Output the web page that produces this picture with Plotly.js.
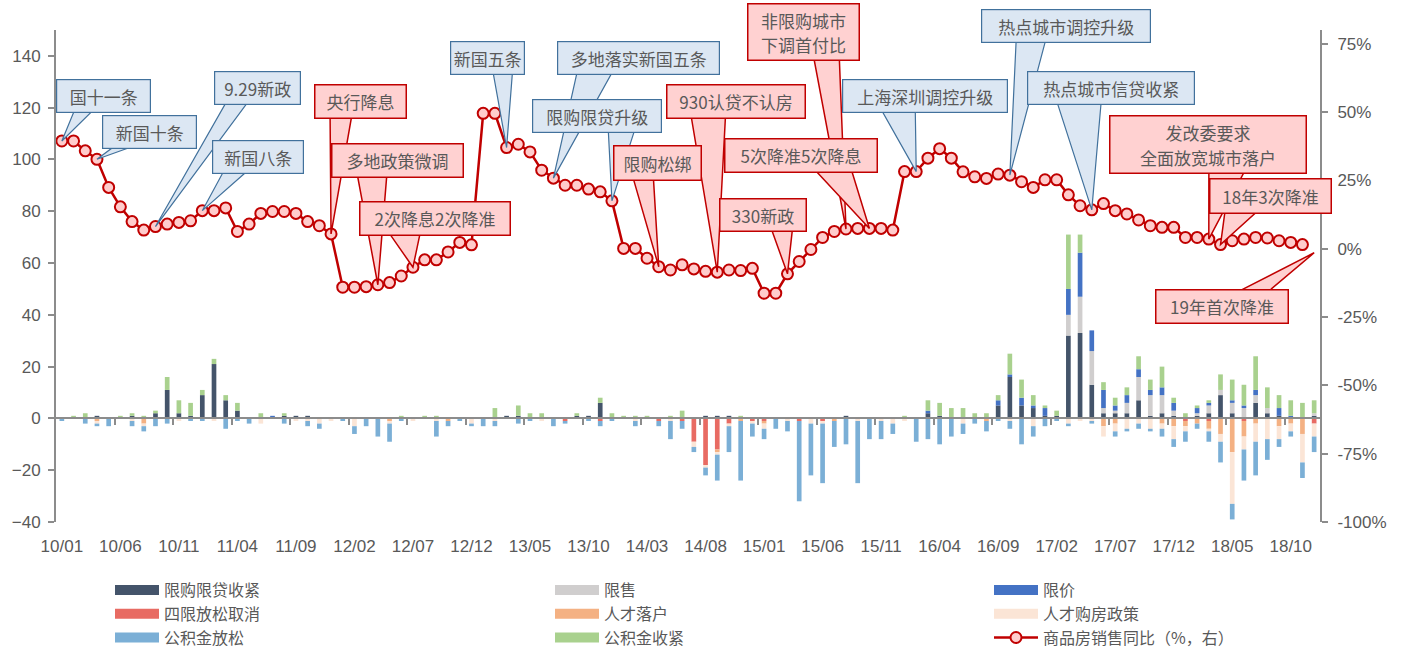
<!DOCTYPE html>
<html><head><meta charset="utf-8">
<script src="https://cdn.plot.ly/plotly-3.0.1.min.js"></script>
<style>html,body{margin:0;padding:0;background:#fff}#chart{width:1404px;height:648px}</style>
</head><body><div id="chart"></div>
<script>
// ---------- categories ----------
const startYear = 2010;
const nMonths = 108; // 2010/01 .. 2018/12
const monthIdx = Array.from({length: nMonths}, (_, i) => i);
const monthLabels = monthIdx.map(i => String(startYear + Math.floor(i / 12)).slice(2) + '/' + String(i % 12 + 1).padStart(2, '0'));
const tickIdx = [0,5,10,15,20,25,30,35,40,45,50,55,60,65,70,75,80,85,90,95,100,105];
const tickLabels = ['10/01','10/06','10/11','11/04','11/09','12/02','12/07','12/12','13/05','13/10','14/03','14/08','15/01','15/06','15/11','16/04','16/09','17/02','17/07','17/12','18/05','18/10'];
const leftTicks = [-40,-20,0,20,40,60,80,100,120,140];
const rightTicks = [-100,-75,-50,-25,0,25,50,75];
const rightTickText = ['-100%','-75%','-50%','-25%','0%','25%','50%','75%'];

// ---------- policy counts (left axis) ----------
const tightenPurchase = [ // 限购限贷收紧
 0,0,0,1,0,0,1,0,2,11, 2,1,9,21,7,3,0,0,0,1, 1,1,0,0,0,0,0,0,0,0, 0,0,0,0,0,0,0,0,1,1,
 0,0,0,0,1,1,6,0,0,0, 0,0,0,0,0,1,1,1,0,0, 0,0,0,0,0,0,0,1,0,0, 0,0,0,0,2,1,0,0,0,0,
 5,16,5,4,1,1,32,33,13,2, 2,2,7,1,2,1,0,1,2,9, 2,0,6,2,1,0,0,1];
const limitSale = [ // 限售
 0,0,0,0,0,0,0,0,0,0, 0,0,0,0,0,0,0,0,0,0, 0,0,0,0,0,0,0,0,0,0, 0,0,0,0,0,0,0,0,0,0,
 0,0,0,0,0,0,0,0,0,0, 0,0,0,0,0,0,0,0,0,0, 0,0,0,0,0,0,0,0,0,0, 0,0,0,0,0,0,0,0,0,0,
 0,0,0,0,0,0,8,14,13,2, 1,4,9,8,7,2,0,1,3,2, 4,4,3,2,0,0,0,1];
const limitPrice = [ // 限价
 0,0,0,0,0,0,0,0,0,0, 0,0,0,0,0,0,0,0,1,0, 0,0,0,0,0,0,0,0,0,0, 0,0,0,0,0,0,0,0,0,0,
 0,0,0,0,0,0,0,0,0,0, 0,0,0,0,0,0,0,0,0,0, 0,0,0,0,0,0,0,0,0,0, 0,0,0,0,1,0,0,0,0,0,
 2,1,3,1,3,0,10,17,8,7, 2,3,3,2,3,3,0,2,1,0, 1,1,2,0,3,1,0,0];
const cancelLimits = [ // 四限放松取消
 0,0,0,0,0,0,0,0,0,0, 0,0,0,0,0,0,0,0,0,0, 0,0,0,0,0,0,0,0,0,0, 0,0,0,0,0,0,0,0,0,0,
 0,0,0,-1,0,0,-1,0,0,0, 0,-1,0,-1,-9,-18,-12,-2,0,-1, -1,0,0,-1,0,-1,0,0,0,0, 0,0,0,0,0,0,0,0,0,0,
 0,0,0,0,0,0,0,0,0,0, 0,0,0,0,0,0,-1,0,-1,0, 0,-1,0,0,0,0,0,-2];
const talentHukou = [ // 人才落户
 0,0,0,-1,0,0,0,-2,0,0, 0,0,0,0,0,0,0,0,0,0, 0,0,0,0,0,0,0,0,-1,0, 0,0,0,-1,0,0,0,0,0,0,
 0,0,0,0,0,0,0,0,0,0, 0,0,0,0,0,0,-1,0,-1,0, -1,0,0,0,0,0,-1,0,0,0, 0,0,0,0,0,0,0,0,0,-1,
 0,0,0,0,0,0,0,0,0,-3, -2,0,0,0,-2,-3,-2,-2,-3,-6, -13,-6,-2,0,-3,-2,-6,0];
const talentHousing = [ // 人才购房政策
 0,0,0,-1,0,0,-1,-1,0,0, -1,0,0,-1,0,0,0,-2,0,0, -1,-1,-2,-1,0,-3,0,0,-1,0, -1,0,-1,0,0,-2,0,-1,0,0,
 0,-1,0,0,0,0,0,0,0,-1, 0,0,-1,0,-2,-1,-1,-1,0,-1, -2,0,-1,0,-2,-1,0,0,-1,0, -1,-2,-1,0,0,0,0,-2,0,0,
 0,-1,0,-3,0,0,-2,-1,-1,-4, -3,-4,-2,-4,-2,-5,-2,0,-1,-3, -20,-5,-7,-8,-5,-3,-11,-5];
const fundEase = [ // 公积金放松
 -1,0,-2,-1,-3,0,-2,-2,-3,-2, 0,-1,-1,0,-4,-1,-2,0,0,-2, 0,-2,-2,0,-1,-3,-3,-7,-7,-1, 0,0,-6,-2,-1,-1,-3,-2,0,-2,
 -1,0,-3,-1,0,-1,-2,-1,0,-2, 0,-2,-7,-3,-2,-3,-10,-10,-23,-5, -4,-4,-4,-31,-20,-23,-10,-10,-24,-8, -7,-4,0,-9,-8,-10,-7,-4,-2,-4,
 -1,-3,-10,-4,-3,-1,-1,0,-1,0, -2,-1,-2,-1,-3,-3,-4,-2,-4,-8, -6,-12,-13,-8,-3,-2,-6,-6];
const fundTighten = [ // 公积金收紧
 0,1,2,0,0,1,1,1,1,5, 5,5,2,2,2,3,0,2,0,1, 0,0,0,0,0,0,0,0,0,1, 0,1,1,0,0,0,0,4,0,4,
 2,2,0,0,1,0,2,2,1,1, 1,0,1,3,0,0,0,0,1,0, 0,0,0,0,0,0,0,0,0,0, 0,0,1,0,4,5,4,4,2,2,
 2,8,7,4,1,2,21,7,0,3, 3,3,5,4,8,2,2,1,1,6, 8,8,13,8,5,6,6,5];

// ---------- 商品房销售同比 (%, right axis), 2010/01 .. 2018/11 ----------
const salesYoY = [
 39.4,39.4,35.8,32.7,22.4,15.3,9.9,6.8,8.1,9.0, 9.6,10.2,13.9,13.9,14.9,6.3,9.0,12.9,13.6,13.6,
 12.9,9.9,8.4,5.4,-14.1,-14.1,-13.9,-13.2,-12.4,-10.0, -6.8,-4.1,-4.1,-1.2,2.3,1.4,49.5,49.5,37.0,38.2,
 35.4,28.7,25.8,23.2,23.2,21.8,20.8,17.5,0.1,0.1, -3.5,-6.6,-7.8,-5.9,-7.4,-8.3,-8.6,-7.8,-8.0,-7.2,
 -16.3,-16.3,-9.2,-4.7,-0.3,4.1,6.3,7.2,7.4,7.4, 7.4,6.8,28.2,28.2,33.1,36.6,33.1,28.1,26.3,25.7,
 27.3,26.9,24.5,22.4,25.2,25.2,19.7,15.7,14.2,16.5, 13.9,12.7,10.5,8.4,7.8,7.8,4.1,4.1,3.5,1.5,
 2.9,3.5,4.1,3.9,2.9,2.3,1.5];
const salesIdx = monthIdx.slice(0, salesYoY.length);

// ---------- series meta ----------
const barSeries = [
 {name:'限购限贷收紧', y:tightenPurchase, color:'#44546a', legend:'legend'},
 {name:'限售', y:limitSale, color:'#d0cece', legend:'legend2'},
 {name:'限价', y:limitPrice, color:'#4472c4', legend:'legend3'},
 {name:'四限放松取消', y:cancelLimits, color:'#e86b63', legend:'legend'},
 {name:'人才落户', y:talentHukou, color:'#f4b183', legend:'legend2'},
 {name:'人才购房政策', y:talentHousing, color:'#fbe5d6', legend:'legend3'},
 {name:'公积金放松', y:fundEase, color:'#7bafd6', legend:'legend'},
 {name:'公积金收紧', y:fundTighten, color:'#a9d18e', legend:'legend2'}
];
const lineName = '商品房销售同比（%，右）';

// ---------- callouts ----------
const callouts = [
 {text:['国十一条'], i:0, bx:3.56, by:55.9, w:93, h:32, base:[-28,12,-8,12], kind:'b'},
 {text:['新国十条'], i:3, bx:7.49, by:42.7, w:93, h:32, base:[-32,12,-10,12], kind:'b'},
 {text:['9.29新政'], i:8, bx:16.72, by:58.8, w:85, h:32, base:[-30,12,-8,12], kind:'b'},
 {text:['新国八条'], i:12, bx:16.77, by:33.7, w:90, h:32, base:[-33,12,-8,12], kind:'b'},
 {text:['新国五条'], i:38, bx:36.38, by:69.8, w:73, h:32, base:[5,12,25,12], kind:'b'},
 {text:['多地落实新国五条'], i:42, bx:49.28, by:69.8, w:161, h:32, base:[-61,12,-25,12], kind:'b'},
 {text:['限购限贷升级'], i:47, bx:45.74, by:48.4, w:128, h:32, base:[11,12,38,12], kind:'b'},
 {text:['上海深圳调控升级'], i:73, bx:73.77, by:55.9, w:164, h:32, base:[-45,12,-10,12], kind:'b'},
 {text:['热点城市调控升级'], i:81, bx:85.82, by:81.5, w:168, h:32, base:[-50,12,-20,12], kind:'b'},
 {text:['热点城市信贷收紧'], i:88, bx:89.67, by:58.8, w:166, h:32, base:[-55,12,-10,12], kind:'b'},
 {text:['央行降息'], i:23, bx:25.48, by:53.7, w:90, h:32, base:[-30,12,-8,12], kind:'r'},
 {text:['多地政策微调'], i:27, bx:28.72, by:32.1, w:130, h:32, base:[-41,12,-11,12], kind:'r'},
 {text:['2次降息2次降准'], i:30, bx:31.85, by:10.9, w:149, h:32, base:[-47,12,-14,12], kind:'r'},
 {text:['限购松绑'], i:51, bx:50.87, by:31.4, w:86, h:33, base:[-25,12,-4,12], kind:'r'},
 {text:['930认贷不认房'], i:56, bx:57.57, by:54.0, w:137, h:32, base:[-45,12,-10,12], kind:'r'},
 {text:['非限购城市','下调首付比'], i:67, bx:63.34, by:79.1, w:110, h:55, base:[10,22,36,22], kind:'r'},
 {text:['5次降准5次降息'], i:69, bx:63.13, by:34.1, w:151, h:32, base:[12,12,50,12], kind:'r'},
 {text:['330新政'], i:62, bx:59.88, by:12.3, w:85, h:31, base:[8,12,30,12], kind:'r'},
 {text:['发改委要求','全面放宽城市落户'], i:98, bx:97.92, by:38.0, w:195, h:56, base:[1,24,38,24], kind:'r'},
 {text:['18年3次降准'], i:99, bx:103.26, by:19.1, w:120, h:33, base:[-45,12,-10,12], kind:'r'},
 {text:['19年首次降准'], tx:107, ty:-1.5, bx:99.15, by:-21.0, w:131, h:32, base:[11,-12,43,-12], kind:'r'}
];

// ---------- layout constants ----------
const W = 1404, H = 648;
const M = {l:56, r:84, t:30, b:126};
const PW = W - M.l - M.r, PH = H - M.t - M.b;
const xRange = [-0.5, 107.5];
const yRange = [-40, 150];
const y2Range = [-100, 80];
const pxPerX = PW / (xRange[1] - xRange[0]);
const pxPerY2 = PH / (y2Range[1] - y2Range[0]);
const axisGray = '#8c8c8c';
const txtGray = '#595959';
const cjk = 'Noto Sans CJK SC, sans-serif';
const tickFont = {family:'Liberation Sans, Arial, sans-serif', size:17, color:txtGray};
const calloutFont = {family:cjk, size:17, color:txtGray};
const lineGap = 25; // px between the two text lines of a two-line callout
const styles = {
 b:{fill:'#dce7f3', line:'#41719c', lw:1.2},
 r:{fill:'#ffd1d1', line:'#c00000', lw:1.5}
};

// ---------- traces ----------
const traces = [];
barSeries.forEach(s => traces.push({
 type:'bar', x:monthIdx, y:s.y, name:s.name, xaxis:'x', yaxis:'y',
 marker:{color:s.color, line:{width:0}}, showlegend:false, hoverinfo:'x+y+name'
}));
barSeries.forEach((s, k) => traces.push({
 type:'scatter', mode:'lines', x:[null], y:[null], name:s.name, xaxis:'x', yaxis:'y',
 line:{color:s.color, width:10}, legend:s.legend, legendgroup:'g' + k, showlegend:true, hoverinfo:'skip'
}));
traces.push({
 type:'scatter', mode:'lines+markers', x:salesIdx, y:salesYoY, name:lineName, xaxis:'x2', yaxis:'y2',
 line:{color:'#c00000', width:2.5},
 marker:{symbol:'circle', size:11, color:'#ffcccc', line:{color:'#c00000', width:2}},
 legend:'legend3', legendgroup:'gline', cliponaxis:false
});

// ---------- callout shapes + annotations ----------
const shapes = [], annotations = [];
const yMaxAnchor = y2Range[1] - 0.5;
callouts.forEach(c => {
 const st = styles[c.kind];
 const tx = (c.i !== undefined) ? salesIdx[c.i] : c.tx;
 const ty = (c.i !== undefined) ? salesYoY[c.i] : c.ty;
 const x1 = c.bx + c.base[0] / pxPerX, y1 = c.by - c.base[1] / pxPerY2;
 const x2 = c.bx + c.base[2] / pxPerX, y2 = c.by - c.base[3] / pxPerY2;
 shapes.push({type:'path', xref:'x2', yref:'y2', layer:'above',
  path:'M ' + tx + ' ' + ty + ' L ' + x1.toFixed(3) + ' ' + y1.toFixed(3) + ' L ' + x2.toFixed(3) + ' ' + y2.toFixed(3) + ' Z',
  fillcolor:st.fill, line:{color:st.line, width:st.lw}});
 // keep the anchor inside the axis range; shift in pixels when the box sits above it
 const ay = Math.min(c.by, yMaxAnchor);
 const shift = (c.by - ay) * pxPerY2;
 const two = c.text.length > 1;
 annotations.push({xref:'x2', yref:'y2', x:c.bx, y:ay, yshift:shift, text:c.text[0], showarrow:false,
  xanchor:'center', yanchor:'middle', align:'center', valign: two ? 'top' : 'middle',
  width:c.w - 2 * (two ? 3 : 1), height:c.h - 2 * (two ? 3 : 1),
  bgcolor:st.fill, bordercolor:st.line, borderwidth:st.lw, borderpad: two ? 3 : 1,
  font:calloutFont});
 if (two) {
  annotations.push({xref:'x2', yref:'y2', x:c.bx, y:ay, yshift:shift - lineGap / 2, text:c.text[1], showarrow:false,
   xanchor:'center', yanchor:'middle', align:'center', font:calloutFont});
 }
});

// legends: three columns, positioned in paper coordinates below the plot
const px2paperX = px => (px - M.l) / PW;
const px2paperY = py => (H - M.b - py) / PH;
const legendBase = {xref:'paper', yref:'paper', xanchor:'left', yanchor:'top', orientation:'v',
 itemwidth:44, tracegroupgap:1, traceorder:'normal', bgcolor:'rgba(0,0,0,0)', borderwidth:0,
 font:{family:cjk, size:16, color:txtGray}, itemclick:false, itemdoubleclick:false};
const legendTop = 573;

const layout = {
 width:W, height:H, margin:{l:M.l, r:M.r, t:M.t, b:M.b, pad:0, autoexpand:false},
 paper_bgcolor:'#ffffff', plot_bgcolor:'rgba(0,0,0,0)',
 barmode:'relative', bargap:0.6,
 font:{family:'Liberation Sans, Arial, sans-serif', size:17, color:txtGray},
 showlegend:true,
 xaxis:{range:xRange, anchor:'free', position:(0 - yRange[0]) / (yRange[1] - yRange[0]),
  showline:true, linecolor:axisGray, linewidth:2, ticks:'outside', ticklen:6, tickwidth:2, tickcolor:axisGray,
  tickvals:tickIdx.slice(1).map(v => v - 0.5), showticklabels:false, showgrid:false, zeroline:false},
 xaxis2:{range:xRange, overlaying:'x', anchor:'y2', side:'bottom', tickvals:tickIdx, ticktext:tickLabels,
  ticks:'', showline:false, showgrid:false, zeroline:false, ticklabelstandoff:12, tickangle:0,
  tickfont:tickFont},
 yaxis:{range:yRange, tickvals:leftTicks, showline:true, linecolor:axisGray, linewidth:2,
  ticks:'outside', ticklen:6, tickwidth:2, tickcolor:axisGray, showgrid:false, zeroline:false, ticklabelstandoff:4,
  tickfont:tickFont},
 yaxis2:{range:y2Range, overlaying:'y', side:'right', anchor:'x2', tickvals:rightTicks, ticktext:rightTickText,
  showline:true, linecolor:axisGray, linewidth:2, ticks:'outside', ticklen:6, tickwidth:2, tickcolor:axisGray,
  showgrid:false, zeroline:false, ticklabelstandoff:6, tickfont:tickFont},
 legend:Object.assign({}, legendBase, {x:px2paperX(110), y:px2paperY(legendTop)}),
 legend2:Object.assign({}, legendBase, {x:px2paperX(550), y:px2paperY(legendTop)}),
 legend3:Object.assign({}, legendBase, {x:px2paperX(989), y:px2paperY(legendTop)}),
 shapes:shapes, annotations:annotations
};

Plotly.newPlot('chart', traces, layout, {displayModeBar:false, staticPlot:true});
</script>
</body></html>
